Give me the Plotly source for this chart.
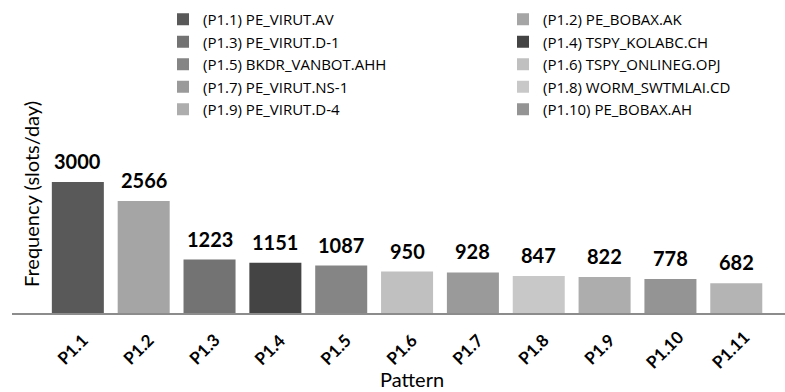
import plotly.graph_objects as go

# Pattern frequencies (slots/day)
patterns = ["P1.1", "P1.2", "P1.3", "P1.4", "P1.5", "P1.6",
            "P1.7", "P1.8", "P1.9", "P1.10", "P1.11"]
frequency = [3000, 2566, 1223, 1151, 1087, 950, 928, 847, 822, 778, 682]
signatures = ["PE_VIRUT.AV", "PE_BOBAX.AK", "PE_VIRUT.D-1", "TSPY_KOLABC.CH",
              "BKDR_VANBOT.AHH", "TSPY_ONLINEG.OPJ", "PE_VIRUT.NS-1",
              "WORM_SWTMLAI.CD", "PE_VIRUT.D-4", "PE_BOBAX.AH", None]
bar_colors = ["#595959", "#a5a5a5", "#737373", "#444444", "#858585", "#c0c0c0",
              "#9a9a9a", "#c8c8c8", "#adadad", "#949494", "#b4b4b4"]

FONT = "Lato"
LEGEND_FONT = "Open Sans"
W, H = 785, 392
L_M, R_M, T_M, B_M = 12, 0, 135, 79
plot_w = W - L_M - R_M
plot_h = H - T_M - B_M


def px_x(px):
    """pixel column -> paper x"""
    return (px - L_M) / plot_w


def px_y(py):
    """pixel row (from top) -> paper y"""
    return (H - B_M - py) / plot_h


fig = go.Figure()
for i, (p, f, sig, c) in enumerate(zip(patterns, frequency, signatures, bar_colors)):
    fig.add_trace(go.Bar(
        x=[p], y=[f],
        name=f"({p}) {sig}" if sig else p,
        showlegend=sig is not None,
        # odd-numbered patterns in the left legend column, even in the right
        legend="legend" if i % 2 == 0 else "legend2",
        marker=dict(color=c, line=dict(width=0)),
        width=0.79,
        hoverinfo="skip",
    ))

# value labels above each bar
for p, f in zip(patterns, frequency):
    fig.add_annotation(x=p, y=f, text=f"<b>{f}</b>", showarrow=False,
                       xanchor="center", yanchor="bottom", yshift=7,
                       font=dict(family=FONT, size=20, color="black"))

# slanted category labels under the axis
for p in patterns:
    fig.add_annotation(x=p, y=0, text=f"<b>{p}</b>", showarrow=False,
                       textangle=-45, xanchor="center", yanchor="middle",
                       xshift=-6, yshift=-36,
                       font=dict(family=FONT, size=17, color="black"))

# axis titles
fig.add_annotation(xref="paper", yref="paper", x=px_x(31), y=px_y(194),
                   xanchor="center", yanchor="middle",
                   text="Frequency (slots/day)", textangle=-90, showarrow=False,
                   font=dict(family=FONT, size=20, color="black"))
fig.add_annotation(xref="paper", yref="paper", x=px_x(412), y=px_y(379),
                   xanchor="center", yanchor="middle",
                   text="Pattern", showarrow=False,
                   font=dict(family=FONT, size=20, color="black"))

legend_common = dict(orientation="v", xanchor="left", yanchor="top",
                     font=dict(family=LEGEND_FONT, size=15, color="black"),
                     bgcolor="rgba(0,0,0,0)", traceorder="normal",
                     tracegroupgap=0)

fig.update_layout(
    width=W, height=H,
    margin=dict(l=L_M, r=R_M, t=T_M, b=B_M),
    paper_bgcolor="white", plot_bgcolor="white",
    barmode="overlay",
    showlegend=True,
    legend=dict(x=px_x(163), y=px_y(3), **legend_common),
    legend2=dict(x=px_x(503), y=px_y(3), **legend_common),
    xaxis=dict(range=[-1.0, 10.74], showgrid=False, zeroline=False,
               showline=True, linecolor="#8c8c8c", linewidth=1.5,
               ticks="", showticklabels=False,
               categoryorder="array", categoryarray=patterns),
    yaxis=dict(range=[0, 3000 * plot_h / 131], showgrid=False,
               zeroline=False, showline=False, showticklabels=False, ticks=""),
)

fig.write_html("out.html")
